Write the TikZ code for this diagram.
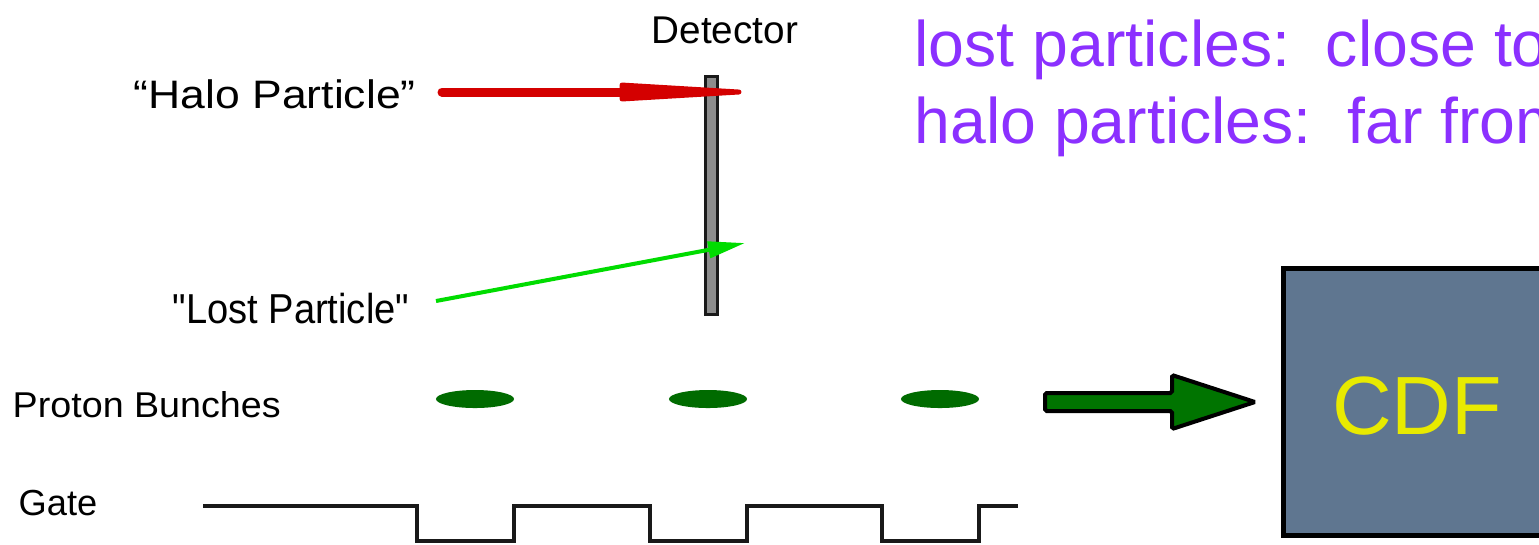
\documentclass[tikz,border=0pt]{standalone}
\usepackage{fontspec}
\setmainfont{Liberation Sans}
\usetikzlibrary{arrows.meta,shapes.geometric}
\definecolor{halored}{HTML}{D40000}
\definecolor{lostgreen}{HTML}{00DC00}
\definecolor{bunchgreen}{HTML}{006B00}
\definecolor{fatgreen}{HTML}{007400}
\definecolor{notepurple}{HTML}{8B30FF}
\definecolor{cdfblue}{HTML}{5F7690}
\definecolor{cdfyellow}{HTML}{E8EA00}
\definecolor{bargray}{HTML}{8C8C8C}

\begin{document}
\begin{tikzpicture}[x=0.01cm, y=-0.01cm,
  lbl/.style={inner sep=0pt, anchor=base west},
  bunch/.style={ellipse, fill=bunchgreen, minimum width=0.78cm, minimum height=0.18cm, inner sep=0pt},
  note/.style={lbl, text=notepurple, font=\fontsize{18.3pt}{22pt}\selectfont}]
  \useasboundingbox (0,0) rectangle (1539,544);
  \clip (0,0) rectangle (1539,544);

  % detector and particles
  \node[draw=black!90, fill=bargray, line width=0.85pt, minimum width=0.12cm, minimum height=2.37cm, inner sep=0pt] (det) at (711.5,195.5) {};
  \node[lbl, font=\fontsize{11pt}{13pt}\selectfont] (dettext) at (651,43) {Detector};
  \node[lbl, xscale=1.12, font=\fontsize{11.3pt}{13pt}\selectfont] (halo) at (133,108) {“Halo Particle”};
  \node[lbl, xscale=0.91, font=\fontsize{11.9pt}{14pt}\selectfont] (lost) at (172,323) {\textquotedbl Lost Particle\textquotedbl};
  \coordinate (haloin) at (442,92);
  \coordinate (halohead) at (624,92);
  \coordinate (lostin) at (436,301);
  \coordinate (losthit) at (745,243);
  \draw[halored, line width=2.56pt, line cap=round] (haloin) -- (halohead);
  \filldraw[halored, line width=1.4pt, line join=round] (622,85) -- (739,92) -- (622,99) -- cycle;
  \draw[lostgreen, line width=1.14pt, -{Triangle[length=10.5pt, width=4.6pt]}] (lostin) -- (losthit);

  % bunches and gate
  \node[lbl, xscale=1.05, font=\fontsize{10.2pt}{12pt}\selectfont] (proton) at (12,417) {Proton Bunches};
  \node[bunch] (b1) at (475,399) {};
  \node[bunch] (b2) at (708,399) {};
  \node[bunch] (b3) at (940,399) {};
  \node[lbl, font=\fontsize{10.3pt}{12pt}\selectfont] (gate) at (18,515) {Gate};
  \draw[black!90, line width=1.1pt] (203,506) -- (417,506) -- (417,541) -- (514,541) -- (514,506)
    -- (650,506) -- (650,541) -- (747,541) -- (747,506) -- (882,506) -- (882,541) -- (979,541)
    -- (979,506) -- (1018,506);

  % CDF
  \node[draw=black, fill=cdfblue, line width=1.4pt, minimum width=3.16cm, minimum height=2.66cm, inner sep=0pt] (cdf) at (1442,402) {};
  \node[text=cdfyellow, font=\fontsize{23.5pt}{28pt}\selectfont, inner sep=0pt] (cdftext) at (1417,406) {CDF};
  \draw[fill=fatgreen, line width=1.14pt, rounded corners=0.5pt] (1045,393) -- (1172,393) -- (1172,375)
    -- (cdf.west -| 1255,0) -- (1172,429) -- (1172,411) -- (1045,411) -- cycle;

  % notes
  \node[note] (lostnote) at (914,66) {lost particles:\ \ close to};
  \node[note] (halonote) at (914,143) {halo particles:\ \ far from};
\end{tikzpicture}
\end{document}
